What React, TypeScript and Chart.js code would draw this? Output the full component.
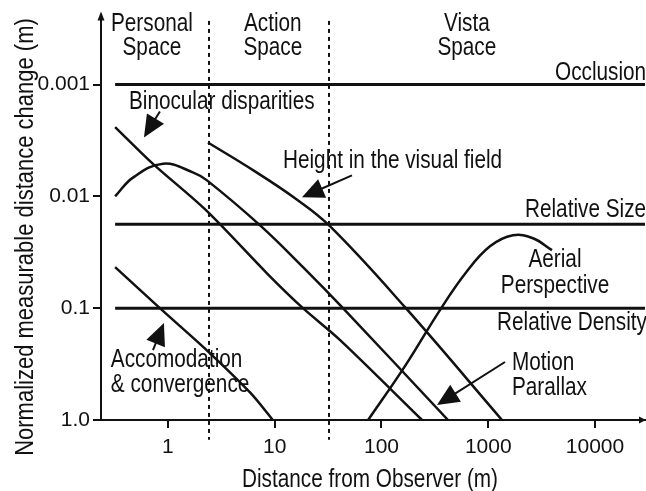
import React, { useEffect, useRef } from 'react';
import { Chart, registerables } from 'chart.js';

Chart.register(...registerables);

const FONT = "'Liberation Sans', Arial, Helvetica, sans-serif";
const INK = '#111111';
const SQUEEZE = 0.83; // reference lettering is a narrow sans

// Axes
const xTicks = [1, 10, 100, 1000, 10000];
const xTickLabels = ['1', '10', '100', '1000', '10000'];
const yTicks = [0.001, 0.01, 0.1, 1];
const yTickLabels = ['0.001', '0.01', '0.1', '1.0'];
const xRange = [0.236, 29400];
const yRange = [0.000242, 1.0];
const xTitle = 'Distance from Observer (m)';
const yTitle = 'Normalized measurable distance change (m)';

// Constant cues (horizontal lines)
const constantValues = [0.001, 0.0178, 0.1];
const constantStart = 0.32;

// Curves
const accomX = [0.32, 0.84, 2.3, 5.9, 9.6];
const accomY = [0.043, 0.1, 0.237, 0.57, 1.0];

const binocX = [0.32, 0.72, 2.27, 8.5, 18.4, 41, 240];
const binocY = [0.0024, 0.0051, 0.0133, 0.049, 0.1, 0.193, 1.0];

const motionX = [0.32, 0.47, 0.9, 1.71, 2.32, 7.3, 18.4, 43.6, 420];
const motionY = [0.01, 0.0068, 0.0051, 0.0061, 0.0072, 0.0182, 0.043, 0.1, 1.0];

const heightX = [2.37, 6.53, 15.5, 32.9, 166, 1345];
const heightY = [0.0033, 0.00598, 0.0104, 0.0185, 0.098, 1.0];

const aerialX = [75, 166, 353, 619, 1038, 1706, 2624, 3955];
const aerialY = [1.0, 0.33, 0.104, 0.048, 0.028, 0.0223, 0.0237, 0.0303];

// Space boundaries (dashed verticals)
const boundaries = [2.4, 32];
const boundarySpan = [0.00027, 1.5];

// Text annotations: [text, x, y(baseline), align]
const annotations: [string, number, number, CanvasTextAlign][] = [
  ['Personal', 0.708, 0.00033, 'center'],
  ['Space', 0.708, 0.00055, 'center'],
  ['Action', 9.6, 0.00033, 'center'],
  ['Space', 9.6, 0.00055, 'center'],
  ['Vista', 630, 0.00033, 'center'],
  ['Space', 630, 0.00055, 'center'],
  ['Occlusion', 4220, 0.00092, 'left'],
  ['Binocular disparities', 0.431, 0.00164, 'left'],
  ['Height in the visual field', 11.95, 0.00562, 'left'],
  ['Relative Size', 2208, 0.0154, 'left'],
  ['Aerial', 4220, 0.043, 'center'],
  ['Perspective', 4220, 0.0734, 'center'],
  ['Relative Density', 1208, 0.157, 'left'],
  ['Motion', 1669, 0.358, 'left'],
  ['Parallax', 1669, 0.598, 'left'],
  ['Accomodation', 0.292, 0.337, 'left'],
  ['& convergence', 0.292, 0.562, 'left'],
];

// Arrows: [fromX, fromY, toX, toY]
const arrows: [number, number, number, number][] = [
  [0.841, 0.00174, 0.596, 0.00297],
  [52.9, 0.0065, 18.0, 0.0102],
  [0.724, 0.237, 0.917, 0.136],
  [1435, 0.303, 331, 0.734],
];

const pts = (xs: number[], ys: number[]) => xs.map((x, i) => ({ x, y: ys[i] }));

function narrowText(ctx: CanvasRenderingContext2D, t: string, px: number, py: number, rot = 0) {
  ctx.save();
  ctx.translate(px, py);
  if (rot) ctx.rotate(rot);
  ctx.scale(SQUEEZE, 1);
  ctx.fillText(t, 0, 0);
  ctx.restore();
}

const overlay = {
  id: 'overlay',
  beforeDatasetsDraw(chart: any) {
    const { ctx, scales } = chart;
    const x = scales.x;
    const y = scales.y;
    ctx.save();
    ctx.strokeStyle = INK;
    ctx.lineWidth = 2;
    ctx.setLineDash([4, 4]);
    boundaries.forEach((b) => {
      const px = Math.round(x.getPixelForValue(b));
      ctx.beginPath();
      ctx.moveTo(px, y.getPixelForValue(boundarySpan[0]));
      ctx.lineTo(px, y.getPixelForValue(boundarySpan[1]));
      ctx.stroke();
    });
    ctx.restore();
  },
  afterDraw(chart: any) {
    const { ctx, scales, chartArea } = chart;
    const x = scales.x;
    const y = scales.y;
    ctx.save();
    ctx.fillStyle = INK;
    ctx.strokeStyle = INK;
    // annotations
    ctx.font = `25px ${FONT}`;
    ctx.textBaseline = 'alphabetic';
    annotations.forEach(([t, vx, vy, al]) => {
      ctx.textAlign = al;
      narrowText(ctx, t, x.getPixelForValue(vx), y.getPixelForValue(vy));
    });
    // arrows
    arrows.forEach(([fx, fy, tx, ty]) => {
      const x1 = x.getPixelForValue(fx);
      const y1 = y.getPixelForValue(fy);
      const x2 = x.getPixelForValue(tx);
      const y2 = y.getPixelForValue(ty);
      const dx = x2 - x1;
      const dy = y2 - y1;
      const len = Math.hypot(dx, dy);
      const ux = dx / len;
      const uy = dy / len;
      const hl = 22;
      const hw = 10;
      const bx = x2 - ux * hl;
      const by = y2 - uy * hl;
      ctx.lineWidth = 2;
      ctx.beginPath();
      ctx.moveTo(x1, y1);
      ctx.lineTo(bx + ux * 2, by + uy * 2);
      ctx.stroke();
      ctx.beginPath();
      ctx.moveTo(x2, y2);
      ctx.lineTo(bx - uy * hw, by + ux * hw);
      ctx.lineTo(bx + uy * hw, by - ux * hw);
      ctx.closePath();
      ctx.fill();
    });
    // axis arrowheads
    const l = chartArea.left;
    const t = chartArea.top;
    ctx.beginPath();
    ctx.moveTo(l, t - 4);
    ctx.lineTo(l - 3.5, t + 5);
    ctx.lineTo(l + 3.5, t + 5);
    ctx.closePath();
    ctx.fill();
    const r = chartArea.right;
    const b = chartArea.bottom;
    ctx.beginPath();
    ctx.moveTo(r + 1, b);
    ctx.lineTo(r - 6, b - 3.5);
    ctx.lineTo(r - 6, b + 3.5);
    ctx.closePath();
    ctx.fill();
    // axis titles
    ctx.textAlign = 'center';
    ctx.textBaseline = 'alphabetic';
    ctx.font = `25px ${FONT}`;
    narrowText(ctx, xTitle, (chartArea.left + chartArea.right) / 2 - 3, 487);
    ctx.font = `26.5px ${FONT}`;
    narrowText(ctx, yTitle, 33, 237, -Math.PI / 2);
    ctx.restore();
  },
};

export default function App() {
  const ref = useRef<HTMLCanvasElement>(null);
  useEffect(() => {
    const canvas = ref.current!;
    Chart.defaults.font.family = FONT;
    const lineBase = { pointRadius: 0, borderColor: INK, fill: false, showLine: true };
    const datasets: any[] = [
      ...constantValues.map((v) => ({
        ...lineBase,
        data: [{ x: constantStart, y: v }, { x: xRange[1], y: v }],
        borderWidth: 3,
        tension: 0,
      })),
      { ...lineBase, data: pts(accomX, accomY), borderWidth: 2.5, tension: 0.3 },
      { ...lineBase, data: pts(binocX, binocY), borderWidth: 2.5, tension: 0.3 },
      { ...lineBase, data: pts(motionX, motionY), borderWidth: 2.5, tension: 0.4 },
      { ...lineBase, data: pts(heightX, heightY), borderWidth: 2.5, tension: 0.4 },
      { ...lineBase, data: pts(aerialX, aerialY), borderWidth: 2.5, tension: 0.4 },
    ];
    const chart = new Chart(canvas, {
      type: 'line',
      data: { datasets },
      options: {
        animation: false,
        responsive: false,
        layout: { padding: { top: 15, right: 1, left: 0, bottom: 0 } },
        plugins: { legend: { display: false }, tooltip: { enabled: false } },
        scales: {
          x: {
            type: 'logarithmic',
            min: xRange[0],
            max: xRange[1],
            afterBuildTicks: (s: any) => {
              s.ticks = xTicks.map((v) => ({ value: v }));
            },
            afterFit: (s: any) => {
              s.height = 71;
            },
            ticks: {
              autoSkip: false,
              maxRotation: 0,
              padding: 7,
              color: INK,
              font: { size: 21, family: FONT },
              callback: (v: any) => xTickLabels[xTicks.indexOf(Number(v))] ?? '',
            },
            grid: { drawOnChartArea: false, tickLength: 8, color: INK, lineWidth: 2 },
            border: { display: true, color: INK, width: 2 },
            title: { display: false },
          },
          y: {
            type: 'logarithmic',
            reverse: true,
            min: yRange[0],
            max: yRange[1],
            afterBuildTicks: (s: any) => {
              s.ticks = yTicks.map((v) => ({ value: v }));
            },
            afterFit: (s: any) => {
              s.width = 101;
            },
            ticks: {
              autoSkip: false,
              padding: 3,
              color: INK,
              font: { size: 21, family: FONT },
              callback: (v: any) => {
                const i = yTicks.findIndex((t) => Math.abs(t - Number(v)) < t * 1e-6);
                return i >= 0 ? yTickLabels[i] : '';
              },
            },
            grid: { drawOnChartArea: false, tickLength: 8, color: INK, lineWidth: 2 },
            border: { display: true, color: INK, width: 2 },
          },
        },
      },
      plugins: [overlay],
    });
    return () => chart.destroy();
  }, []);
  return (
    <div style={{ position: 'absolute', left: 0, top: 0, width: 646, height: 491, background: '#fff' }}>
      <canvas ref={ref} width={646} height={491} style={{ display: 'block', width: 646, height: 491 }} />
    </div>
  );
}
